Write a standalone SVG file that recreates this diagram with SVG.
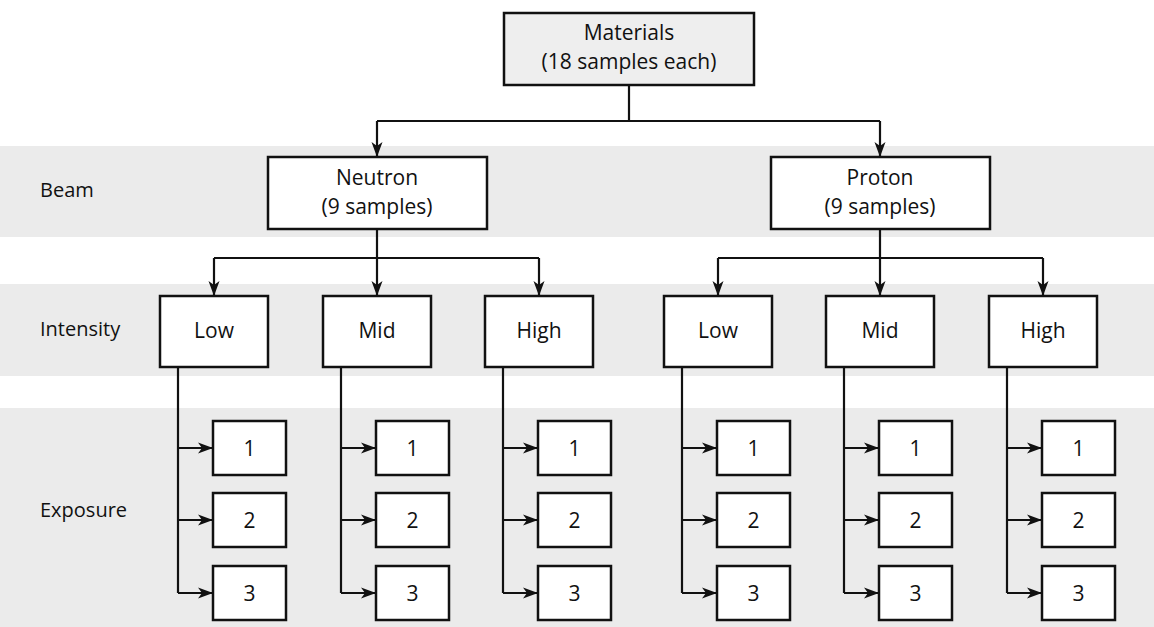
<svg xmlns="http://www.w3.org/2000/svg" width="1154" height="627" viewBox="0 0 1154 627">
<style>
.band{fill:#ebebeb;}
.box{fill:#ffffff;stroke:#111;stroke-width:2.5;}
.top{fill:#eeeeee;stroke:#111;stroke-width:2.5;}
.t{font-family:"Open Sans","Noto Sans",sans-serif;font-size:21px;fill:#111;text-anchor:middle;}
.lbl{font-family:"Open Sans","Noto Sans",sans-serif;font-size:20px;fill:#111;}
.c{fill:none;stroke:#111;stroke-width:2.2;}
.a{fill:none;stroke:#111;stroke-width:2.2;marker-end:url(#ah);}
</style>
<defs>
<marker id="ah" markerUnits="userSpaceOnUse" markerWidth="16" markerHeight="12" refX="15" refY="6" orient="auto">
<path d="M0,0.5 L15,6 L0,11.5 L4,6 z" fill="#111"/>
</marker>
</defs>
<rect class="band" x="0" y="146" width="1154" height="91"/>
<rect class="band" x="0" y="284" width="1154" height="92"/>
<rect class="band" x="0" y="408" width="1154" height="219"/>
<g id="labels">
<text class="lbl" x="40" y="197">Beam</text>
<text class="lbl" x="40" y="336">Intensity</text>
<text class="lbl" x="40" y="517">Exposure</text>
</g>
<g id="connectors">
<path class="c" d="M629,85 V121 M377,121 H880"/>
<path class="a" d="M377,121 V157"/>
<path class="a" d="M880,121 V157"/>
<path class="c" d="M377,229 V258 M214,258 H539"/>
<path class="a" d="M214,258 V296"/>
<path class="a" d="M377,258 V296"/>
<path class="a" d="M539,258 V296"/>
<path class="c" d="M880,229 V258 M718,258 H1043"/>
<path class="a" d="M718,258 V296"/>
<path class="a" d="M880,258 V296"/>
<path class="a" d="M1043,258 V296"/>
<path class="c" d="M178,367 V593 M341,367 V593 M503,367 V593 M682,367 V593 M844,367 V593 M1007,367 V593"/>
<path class="a" d="M178,448 H213"/><path class="a" d="M178,520 H213"/><path class="a" d="M178,593 H213"/>
<path class="a" d="M341,448 H376"/><path class="a" d="M341,520 H376"/><path class="a" d="M341,593 H376"/>
<path class="a" d="M503,448 H538"/><path class="a" d="M503,520 H538"/><path class="a" d="M503,593 H538"/>
<path class="a" d="M682,448 H717"/><path class="a" d="M682,520 H717"/><path class="a" d="M682,593 H717"/>
<path class="a" d="M844,448 H879"/><path class="a" d="M844,520 H879"/><path class="a" d="M844,593 H879"/>
<path class="a" d="M1007,448 H1042"/><path class="a" d="M1007,520 H1042"/><path class="a" d="M1007,593 H1042"/>
</g>
<g id="materials"><rect class="top" x="504" y="13" width="250" height="72"/><text class="t" x="629" y="40">Materials</text><text class="t" x="629" y="69">(18 samples each)</text></g>
<g id="neutron"><rect class="box" x="268" y="157" width="219" height="72"/><text class="t" x="377" y="185">Neutron</text><text class="t" x="377" y="214">(9 samples)</text></g>
<g id="proton"><rect class="box" x="771" y="157" width="219" height="72"/><text class="t" x="880" y="185">Proton</text><text class="t" x="880" y="214">(9 samples)</text></g>
<g id="n-low"><rect class="box" x="160" y="296" width="108" height="71"/><text class="t" x="214" y="338">Low</text></g>
<g id="n-mid"><rect class="box" x="323" y="296" width="108" height="71"/><text class="t" x="377" y="338">Mid</text></g>
<g id="n-high"><rect class="box" x="485" y="296" width="108" height="71"/><text class="t" x="539" y="338">High</text></g>
<g id="p-low"><rect class="box" x="664" y="296" width="108" height="71"/><text class="t" x="718" y="338">Low</text></g>
<g id="p-mid"><rect class="box" x="826" y="296" width="108" height="71"/><text class="t" x="880" y="338">Mid</text></g>
<g id="p-high"><rect class="box" x="989" y="296" width="108" height="71"/><text class="t" x="1043" y="338">High</text></g>
<g id="n-low-exp"><rect class="box" x="213" y="421" width="73" height="54"/><text class="t" x="249.5" y="456">1</text><rect class="box" x="213" y="493" width="73" height="54"/><text class="t" x="249.5" y="528">2</text><rect class="box" x="213" y="566" width="73" height="54"/><text class="t" x="249.5" y="601">3</text></g>
<g id="n-mid-exp"><rect class="box" x="376" y="421" width="73" height="54"/><text class="t" x="412.5" y="456">1</text><rect class="box" x="376" y="493" width="73" height="54"/><text class="t" x="412.5" y="528">2</text><rect class="box" x="376" y="566" width="73" height="54"/><text class="t" x="412.5" y="601">3</text></g>
<g id="n-high-exp"><rect class="box" x="538" y="421" width="73" height="54"/><text class="t" x="574.5" y="456">1</text><rect class="box" x="538" y="493" width="73" height="54"/><text class="t" x="574.5" y="528">2</text><rect class="box" x="538" y="566" width="73" height="54"/><text class="t" x="574.5" y="601">3</text></g>
<g id="p-low-exp"><rect class="box" x="717" y="421" width="73" height="54"/><text class="t" x="753.5" y="456">1</text><rect class="box" x="717" y="493" width="73" height="54"/><text class="t" x="753.5" y="528">2</text><rect class="box" x="717" y="566" width="73" height="54"/><text class="t" x="753.5" y="601">3</text></g>
<g id="p-mid-exp"><rect class="box" x="879" y="421" width="73" height="54"/><text class="t" x="915.5" y="456">1</text><rect class="box" x="879" y="493" width="73" height="54"/><text class="t" x="915.5" y="528">2</text><rect class="box" x="879" y="566" width="73" height="54"/><text class="t" x="915.5" y="601">3</text></g>
<g id="p-high-exp"><rect class="box" x="1042" y="421" width="73" height="54"/><text class="t" x="1078.5" y="456">1</text><rect class="box" x="1042" y="493" width="73" height="54"/><text class="t" x="1078.5" y="528">2</text><rect class="box" x="1042" y="566" width="73" height="54"/><text class="t" x="1078.5" y="601">3</text></g>
</svg>
